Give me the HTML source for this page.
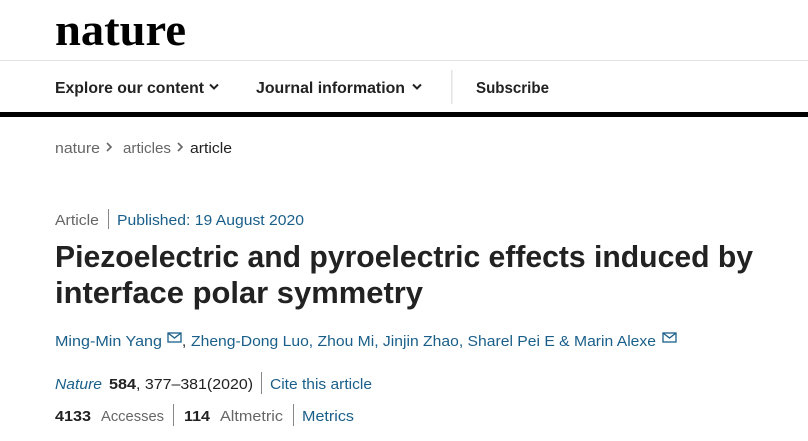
<!DOCTYPE html>
<html><head><meta charset="utf-8"><style>
html,body{margin:0;padding:0;background:#fff;width:808px;height:441px;overflow:hidden}
svg{display:block}
text{font-family:"Liberation Sans",sans-serif}
</style></head><body>
<svg width="808" height="441" viewBox="0 0 808 441" xmlns="http://www.w3.org/2000/svg">
<text x="55" y="45" font-weight="bold" font-size="46" fill="#000" textLength="131" lengthAdjust="spacingAndGlyphs" style="font-family:'Liberation Serif',serif">nature</text>
<rect x="0" y="60" width="808" height="1" fill="#e3e3e3"/>
<g font-weight="bold" font-size="16" fill="#222">
<text x="55" y="93" textLength="149" lengthAdjust="spacingAndGlyphs">Explore our content</text>
<text x="256" y="93" textLength="149" lengthAdjust="spacingAndGlyphs">Journal information</text>
<text x="476" y="93" textLength="73" lengthAdjust="spacingAndGlyphs">Subscribe</text>
</g>
<path d="M210 84.5 l4 4 l4 -4 M413 84.5 l4 4 l4 -4" stroke="#222" stroke-width="2" fill="none"/>
<rect x="451" y="70" width="1.5" height="34" fill="#e3e3e3"/>
<rect x="0" y="112" width="808" height="5" fill="#000"/>
<g font-size="15">
<text x="55" y="153" fill="#666" textLength="45" lengthAdjust="spacingAndGlyphs">nature</text>
<path d="M107 143 l4 4 l-4 4 M178 143 l4 4 l-4 4" stroke="#666" stroke-width="1.6" fill="none"/>
<text x="123" y="153" fill="#666" textLength="48" lengthAdjust="spacingAndGlyphs">articles</text>
<text x="190" y="153" fill="#222" textLength="42" lengthAdjust="spacingAndGlyphs">article</text>
<text x="55" y="225" fill="#666" textLength="44" lengthAdjust="spacingAndGlyphs">Article</text>
<rect x="108" y="209" width="1" height="20" fill="#888"/>
<text x="117" y="225" fill="#1a5f8a" textLength="187" lengthAdjust="spacingAndGlyphs">Published: 19 August 2020</text>
</g>
<g font-weight="bold" font-size="31" fill="#222">
<text x="55" y="267" textLength="698" lengthAdjust="spacingAndGlyphs">Piezoelectric and pyroelectric effects induced by</text>
<text x="55" y="303" textLength="368" lengthAdjust="spacingAndGlyphs">interface polar symmetry</text>
</g>
<g font-size="15" fill="#1a5f8a">
<text x="55" y="346" textLength="107" lengthAdjust="spacingAndGlyphs">Ming-Min Yang</text>
<rect x="168" y="333" width="13" height="9" fill="none" stroke="#1a5f8a" stroke-width="1.3"/>
<path d="M168 333 l6.5 5 l6.5 -5" fill="none" stroke="#1a5f8a" stroke-width="1.3"/>
<text x="182" y="346" fill="#222">,</text>
<text x="191" y="346" textLength="465" lengthAdjust="spacingAndGlyphs">Zheng-Dong Luo, Zhou Mi, Jinjin Zhao, Sharel Pei E &amp; Marin Alexe</text>
<rect x="663" y="333" width="13" height="9" fill="none" stroke="#1a5f8a" stroke-width="1.3"/>
<path d="M663 333 l6.5 5 l6.5 -5" fill="none" stroke="#1a5f8a" stroke-width="1.3"/>
<text x="55" y="389" font-style="italic" textLength="47" lengthAdjust="spacingAndGlyphs">Nature</text>
<text x="109" y="389" fill="#222" font-weight="bold" textLength="27" lengthAdjust="spacingAndGlyphs">584</text>
<text x="136" y="389" fill="#222" textLength="117" lengthAdjust="spacingAndGlyphs">, 377–381(2020)</text>
<rect x="261" y="372" width="1" height="22" fill="#888"/>
<text x="270" y="389" textLength="102" lengthAdjust="spacingAndGlyphs">Cite this article</text>
<text x="55" y="421" fill="#222" font-weight="bold" textLength="36" lengthAdjust="spacingAndGlyphs">4133</text>
<text x="101" y="421" fill="#666" textLength="63" lengthAdjust="spacingAndGlyphs">Accesses</text>
<rect x="173" y="404" width="1" height="22" fill="#888"/>
<text x="184" y="421" fill="#222" font-weight="bold" textLength="26" lengthAdjust="spacingAndGlyphs">114</text>
<text x="220" y="421" fill="#666" textLength="63" lengthAdjust="spacingAndGlyphs">Altmetric</text>
<rect x="293" y="404" width="1" height="22" fill="#888"/>
<text x="302" y="421" textLength="52" lengthAdjust="spacingAndGlyphs">Metrics</text>
</g>
</svg>
</body></html>
